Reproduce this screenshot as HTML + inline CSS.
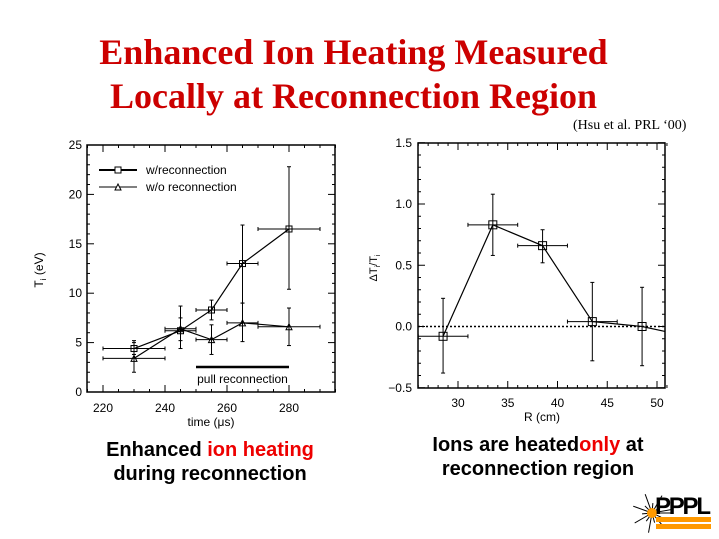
<!DOCTYPE html>
<html><head><meta charset="utf-8"><style>
body{margin:0;width:719px;height:539px;background:#fff;overflow:hidden;position:relative;font-family:"Liberation Sans",sans-serif}
.t{position:absolute;left:0;width:719px;text-align:center;color:#cc0000;font-family:"Liberation Serif",serif;font-weight:bold;font-size:36px;line-height:40px}
.c{position:absolute;text-align:center;font-weight:bold;font-size:20px;line-height:24px;color:#000}
</style></head><body>
<div class="t" style="top:32px;left:-6px">Enhanced Ion Heating Measured</div>
<div class="t" style="top:76px;left:-6px">Locally at Reconnection Region</div>
<div style="position:absolute;left:573px;top:118px;font-family:'Liberation Serif',serif;font-size:14px">(Hsu et al. PRL ‘00)</div>
<div class="c" style="left:90px;top:438px;width:240px">Enhanced <span style="color:#e00">ion heating</span><br>during reconnection</div>
<div class="c" style="left:403px;top:433px;width:270px">Ions are heated<span style="color:#e00">only</span> at<br>reconnection region</div>
<svg id="s" width="719" height="539" style="position:absolute;left:0;top:0" font-family="Liberation Sans, sans-serif" font-size="12"></svg>
<script>
var s=document.getElementById('s'),h='';
function L(a,b,c,d,w,da){h+='<line x1="'+a+'" y1="'+b+'" x2="'+c+'" y2="'+d+'" stroke="#000" stroke-width="'+(w||1)+'"'+(da?' stroke-dasharray="'+da+'"':'')+'/>';}
function T(x,y,t,a){h+='<text x="'+x+'" y="'+y+'" text-anchor="'+(a||'middle')+'">'+t+'</text>';}
var X=function(v){return 103+(v-220)*3.1},Y=function(v){return 392-v*9.88};
h+='<rect x="87" y="145" width="248" height="247" fill="none" stroke="#000" stroke-width="1.5"/>';
for(var v=0;v<=25;v++){var y=Y(v),l=v%5==0?7:3;L(87,y,87+l,y);L(335,y,335-l,y);if(v%5==0)T(82,y+4,v,'end');}
for(var v=215;v<=295;v+=5){var x=X(v),l=v%20==0?7:3;L(x,392,x,392-l);L(x,145,x,145+l);if(v%20==0)T(x,412,v);}
T(211,426,'time (μs)');
h+='<text transform="translate(43,270) rotate(-90)" text-anchor="middle">T<tspan font-size="8" dy="3">i</tspan><tspan dy="-3"> (eV)</tspan></text>';
var A=[[230,4.4,3.8,5.2,10],[245,6.2,5.2,7.5,5],[255,8.3,7.3,9.3,5],[265,13,9,16.9,5],[280,16.5,10.4,22.8,10]];
var B=[[230,3.4,2,5,10],[245,6.4,4.4,8.7,5],[255,5.3,3.8,6.8,5],[265,7,5.1,9,5],[280,6.6,4.7,8.5,10]];
function ser(D,tri){var p=D.map(d=>X(d[0])+','+Y(d[1])).join(' ');h+='<polyline points="'+p+'" fill="none" stroke="#000" stroke-width="1.2"/>';
D.forEach(d=>{var x=X(d[0]),y=Y(d[1]);L(x,Y(d[2]),x,Y(d[3]));L(x-2,Y(d[2]),x+2,Y(d[2]));L(x-2,Y(d[3]),x+2,Y(d[3]));L(X(d[0]-d[4]),y,X(d[0]+d[4]),y);L(X(d[0]-d[4]),y-2,X(d[0]-d[4]),y+2);L(X(d[0]+d[4]),y-2,X(d[0]+d[4]),y+2);
if(tri)h+='<polygon points="'+(x-3)+','+(y+3)+' '+(x+3)+','+(y+3)+' '+x+','+(y-3)+'" fill="none" stroke="#000"/>';else h+='<rect x="'+(x-3)+'" y="'+(y-3)+'" width="6" height="6" fill="none" stroke="#000"/>';});}
ser(A,0);ser(B,1);
L(99,170,137,170,2);h+='<rect x="115" y="167" width="6" height="6" fill="#fff" stroke="#000"/>';T(146,174,'w/reconnection','start');
L(99,187,137,187,1);h+='<polygon points="115,190 121,190 118,184" fill="#fff" stroke="#000"/>';T(146,191,'w/o reconnection','start');
L(X(250),367,X(280),367,2.5);T(X(265),383,'pull reconnection');
var x2=function(v){return 458+(v-30)*9.95},y2=function(v){return 326.5-v*122.5};
h+='<rect x="418" y="143" width="247" height="245" fill="none" stroke="#000" stroke-width="1.5"/>';
for(var i=-5;i<=15;i++){var v=i/10,y=y2(v),l=i%5==0?7:3;L(418,y,418+l,y);L(665,y,665-l,y);if(i%5==0)T(412,y+4,(v<0?'−':'')+Math.abs(v).toFixed(1),'end');}
for(var v=26;v<=51;v++){var x=x2(v),l=v%5==0?7:3;L(x,388,x,388-l);L(x,143,x,143+l);if(v%5==0)T(x,407,v);}
T(542,421,'R (cm)');
h+='<text transform="translate(377,268) rotate(-90)" text-anchor="middle" font-size="11">ΔT<tspan font-size="7" dy="3">i</tspan><tspan dy="-3">/T</tspan><tspan font-size="7" dy="3">i</tspan></text>';
L(418,y2(0),665,y2(0),1.5,'2,2');
var C=[[28.5,-0.08,-0.38,0.23,2.5],[33.5,0.83,0.58,1.08,2.5],[38.5,0.66,0.52,0.79,2.5],[43.5,0.04,-0.28,0.36,2.5],[48.5,0,-0.32,0.32,0]];
h+='<polyline points="'+C.map(d=>x2(d[0])+','+y2(d[1])).join(' ')+' 665,'+y2(-0.04)+'" fill="none" stroke="#000" stroke-width="1.2"/>';
C.forEach(d=>{var x=x2(d[0]),y=y2(d[1]);L(x,y2(d[2]),x,y2(d[3]));L(x-2,y2(d[2]),x+2,y2(d[2]));L(x-2,y2(d[3]),x+2,y2(d[3]));if(d[4]){L(x2(d[0]-d[4]),y,x2(d[0]+d[4]),y);L(x2(d[0]-d[4]),y-2,x2(d[0]-d[4]),y+2);L(x2(d[0]+d[4]),y-2,x2(d[0]+d[4]),y+2);}
h+='<rect x="'+(x-4)+'" y="'+(y-4)+'" width="8" height="8" fill="none" stroke="#000"/>';});
h+='<g stroke="#000">';for(var a=0;a<360;a+=25){var r=a*Math.PI/180;L(652+Math.cos(r)*4,513+Math.sin(r)*4,652+Math.cos(r)*(a%50?10:20),513+Math.sin(r)*(a%50?10:20));}h+='</g>';
h+='<circle cx="652" cy="513" r="5" fill="#f90"/>';
h+='<text x="655" y="514" font-size="24" font-weight="bold" font-family="Liberation Sans" textLength="56">PPPL</text>';
h+='<rect x="656" y="517" width="55" height="5" fill="#f90"/><rect x="656" y="524" width="55" height="5" fill="#f90"/>';
s.innerHTML=h;
</script>
</body></html>
